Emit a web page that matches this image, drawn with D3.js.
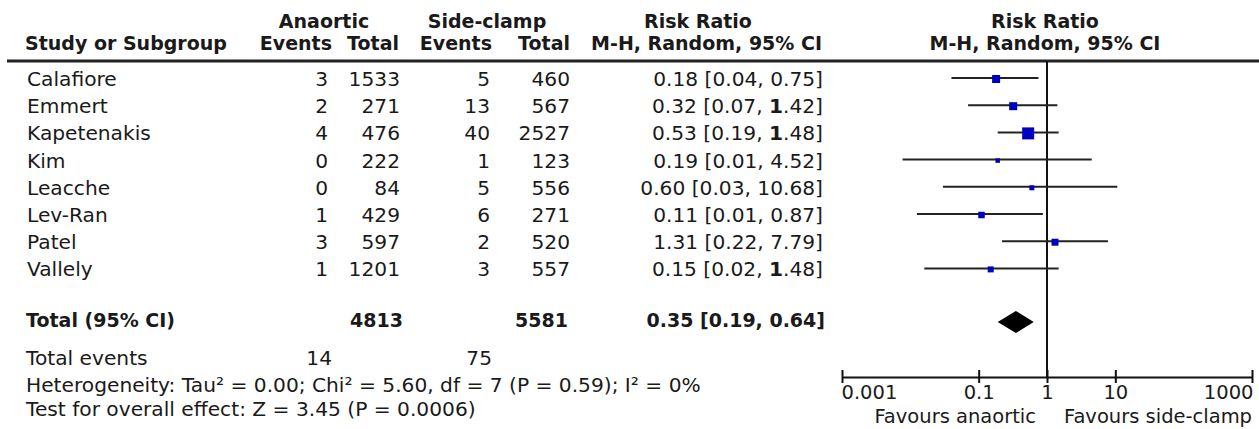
<!DOCTYPE html>
<html>
<head>
<meta charset="utf-8">
<script src="https://cdn.jsdelivr.net/npm/d3@7"></script>
<style>
  html, body { margin: 0; padding: 0; background: #fff; }
  svg { display: block; }
  text { font-family: "DejaVu Sans", sans-serif; fill: #1a1a1a; }
</style>
</head>
<body>
<svg id="chart" width="1259" height="429"></svg>
<script>
// ---------- data ----------
const studies = ["Calafiore", "Emmert", "Kapetenakis", "Kim", "Leacche", "Lev-Ran", "Patel", "Vallely"];
const anaorticEvents = [3, 2, 4, 0, 0, 1, 3, 1];
const anaorticTotal = [1533, 271, 476, 222, 84, 429, 597, 1201];
const clampEvents = [5, 13, 40, 1, 5, 6, 2, 3];
const clampTotal = [460, 567, 2527, 123, 556, 271, 520, 557];
const riskRatio = [0.18, 0.32, 0.53, 0.19, 0.60, 0.11, 1.31, 0.15];
const ciLow = [0.04, 0.07, 0.19, 0.0077, 0.03, 0.0125, 0.22, 0.016];
const ciHigh = [0.75, 1.42, 1.48, 4.52, 10.68, 0.87, 7.79, 1.48];
const weights = [14.7, 14.7, 33, 4.6, 5.7, 9.7, 11.2, 8.2];
const pooled = [0.35, 0.19, 0.64];           // estimate, low, high
const totalN = [4813, 5581];                  // anaortic, side-clamp
const totalEvents = [14, 75];
const heterogeneityText = "Heterogeneity: Tau² = 0.00; Chi² = 5.60, df = 7 (P = 0.59); I² = 0%";
const overallText = "Test for overall effect: Z = 3.45 (P = 0.0006)";
const tickValues = [0.001, 0.1, 1, 10, 1000];
const tickLabels = ["0.001", "0.1", "1", "10", "1000"];
const favourLabels = ["Favours anaortic", "Favours side-clamp"];

// ---------- layout ----------
const svg = d3.select("#chart");
const FS = "20.2px", FSB = "19px";
const x = d3.scaleLog().domain([0.001, 1000]).range([842, 1252]);
const y = d3.scaleLinear().domain([0, 1]).range([78, 105.2]);   // row index -> centre
const size = d3.scaleSqrt().domain([0, 33]).range([0, 12]);
const f2 = d3.format(".2f");

svg.append("rect").attr("width", 1259).attr("height", 429).attr("fill", "#fff");

function txt(g, xx, yy, s, anchor, bold, fs) {
  return g.append("text").attr("x", xx).attr("y", yy)
    .attr("text-anchor", anchor || "start")
    .style("font-size", fs || (bold ? FSB : FS))
    .style("font-weight", bold ? "bold" : "normal")
    .text(s);
}

// headers
const H = svg.append("g");
txt(H, 324, 28, "Anaortic", "middle", true);
txt(H, 487, 28, "Side-clamp", "middle", true);
txt(H, 698, 28, "Risk Ratio", "middle", true);
txt(H, 1045, 28, "Risk Ratio", "middle", true);
txt(H, 25, 50, "Study or Subgroup", "start", true);
txt(H, 332, 50, "Events", "end", true);
txt(H, 399, 50, "Total", "end", true);
txt(H, 492, 50, "Events", "end", true);
txt(H, 570, 50, "Total", "end", true);
txt(H, 822, 50, "M-H, Random, 95% CI", "end", true);
txt(H, 1045, 50, "M-H, Random, 95% CI", "middle", true);
H.append("line").attr("x1", 7).attr("x2", 1259).attr("y1", 61).attr("y2", 61)
  .attr("stroke", "#222").attr("stroke-width", 3);

// study rows
const rows = svg.append("g");
studies.forEach((s, i) => {
  const by = y(i) + 8;
  txt(rows, 27, by, s, "start");
  txt(rows, 328, by, anaorticEvents[i], "end");
  txt(rows, 400, by, anaorticTotal[i], "end");
  txt(rows, 490, by, clampEvents[i], "end");
  txt(rows, 570, by, clampTotal[i], "end");
  const t = txt(rows, 823, by, "", "end");
  const hi = f2(ciHigh[i]);
  t.append("tspan").text(`${f2(riskRatio[i])} [${f2(ciLow[i])}, `);
  if (ciHigh[i] >= 1 && ciHigh[i] < 2) {
    t.append("tspan").style("font-weight", "bold").text(hi[0]);
    t.append("tspan").text(hi.slice(1) + "]");
  } else {
    t.append("tspan").text(hi + "]");
  }
});

// total rows
const T = svg.append("g");
txt(T, 26, 327, "Total (95% CI)", "start", true);
txt(T, 403, 327, totalN[0], "end", true);
txt(T, 568, 327, totalN[1], "end", true);
txt(T, 825, 327, `${f2(pooled[0])} [${f2(pooled[1])}, ${f2(pooled[2])}]`, "end", true);
txt(T, 26, 365, "Total events", "start");
txt(T, 332, 365, totalEvents[0], "end");
txt(T, 492, 365, totalEvents[1], "end");
txt(T, 26, 392, heterogeneityText, "start");
txt(T, 26, 416, overallText, "start");

// forest plot
const axisY = 377;
const P = svg.append("g");
P.append("line").attr("x1", x(1)).attr("x2", x(1)).attr("y1", 61).attr("y2", axisY)
  .attr("stroke", "#111").attr("stroke-width", 2);

P.selectAll("line.ci").data(studies).join("line").attr("class", "ci")
  .attr("x1", (d, i) => x(ciLow[i])).attr("x2", (d, i) => x(ciHigh[i]))
  .attr("y1", (d, i) => y(i)).attr("y2", (d, i) => y(i))
  .attr("stroke", "#222").attr("stroke-width", 2);

P.selectAll("rect.sq").data(studies).join("rect").attr("class", "sq")
  .attr("x", (d, i) => x(riskRatio[i]) - size(weights[i]) / 2)
  .attr("y", (d, i) => y(i) + 1 - size(weights[i]) / 2)
  .attr("width", (d, i) => size(weights[i]))
  .attr("height", (d, i) => size(weights[i]))
  .attr("fill", "#0000c0");

const dy = 322, dh = 11;
P.append("path")
  .attr("d", `M${x(pooled[1])},${dy} L${x(pooled[0])},${dy - dh} L${x(pooled[2])},${dy} L${x(pooled[0])},${dy + dh} Z`)
  .attr("fill", "#000");

// axis
const axis = d3.axisBottom(x).tickValues(tickValues).tickFormat((d, i) => tickLabels[i])
  .tickSizeInner(6).tickSizeOuter(0);
const A = P.append("g").attr("transform", `translate(0,${axisY})`).call(axis);
A.select(".domain").attr("stroke", "#111").attr("stroke-width", 2);
A.selectAll(".tick line").attr("y1", -7).attr("y2", 6).attr("stroke", "#111").attr("stroke-width", 2);
A.selectAll(".tick text")
  .attr("y", 22).attr("dy", null)
  .style("font-family", '"DejaVu Sans", sans-serif')
  .style("font-size", "19.5px").attr("fill", "#1a1a1a")
  .attr("text-anchor", (d, i) => i === 0 ? "start" : (i === tickValues.length - 1 ? "end" : "middle"))
  .attr("dx", (d, i) => i === 0 ? -1 : (i === tickValues.length - 1 ? 1 : 0));

txt(P, 1036, 423, favourLabels[0], "end", false, "19.5px");
txt(P, 1252, 423, favourLabels[1], "end", false, "19.5px");
</script>
</body>
</html>
